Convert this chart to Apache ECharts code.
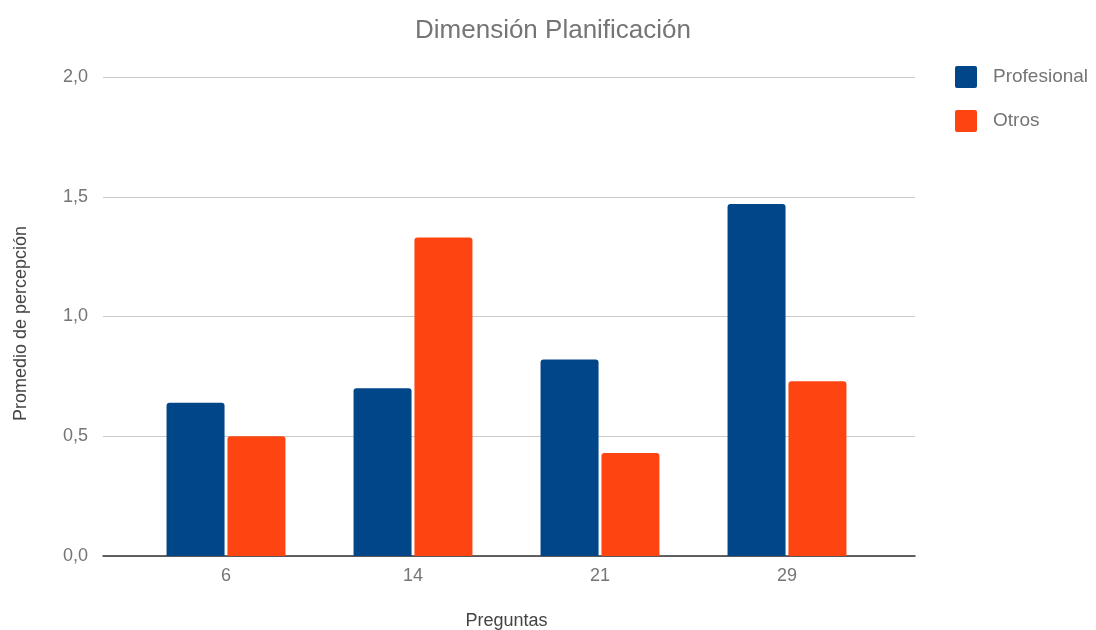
<!DOCTYPE html>
<html>
<head>
<meta charset="utf-8">
<script src="https://cdn.jsdelivr.net/npm/echarts@6/dist/echarts.min.js"></script>
<style>
  html, body { margin: 0; padding: 0; background: #fff; }
  #chart { width: 1096px; height: 630px; }
</style>
</head>
<body>
<div id="chart"></div>
<script>
// Question numbers and mean perception per group
const preguntas = ['6', '14', '21', '29'];
const profesional = [0.64, 0.70, 0.82, 1.47];
const otros = [0.50, 1.33, 0.43, 0.73];
const yTicks = [0, 0.5, 1.0, 1.5, 2.0];

const textColor = '#757575';
const font = 'Arial, "Liberation Sans", sans-serif';
// square legend swatch with slightly rounded corners
const swatch = 'path://M2,0 H20 A2,2 0 0 1 22,2 V20 A2,2 0 0 1 20,22 H2 A2,2 0 0 1 0,20 V2 A2,2 0 0 1 2,0 Z';

const chart = echarts.init(document.getElementById('chart'));
chart.setOption({
  backgroundColor: '#fff',
  textStyle: { fontFamily: font },
  title: {
    text: 'Dimensión Planificación',
    left: 415,
    top: 18,
    padding: 0,
    textStyle: { fontFamily: font, fontSize: 26, fontWeight: 'normal', color: textColor }
  },
  legend: {
    orient: 'vertical',
    left: 955,
    top: 66,
    padding: 0,
    itemWidth: 22,
    itemHeight: 22,
    itemGap: 22,
    icon: swatch,
    textStyle: { fontFamily: font, fontSize: 19, color: textColor, padding: [0, 0, 0, 11] },
    data: ['Profesional', 'Otros']
  },
  grid: [
    // wide grid: gridlines and baseline
    { left: 103, right: 181, top: 77, bottom: 74, outerBoundsMode: 'none', containLabel: false },
    // bar grid
    { left: 132.5, right: 215.5, top: 77, bottom: 74, outerBoundsMode: 'none', containLabel: false }
  ],
  xAxis: [
    {
      type: 'category', gridIndex: 0, data: preguntas,
      axisLine: { show: true, lineStyle: { color: '#333', width: 1.5 } },
      axisTick: { show: false }, axisLabel: { show: false }
    },
    {
      type: 'category', gridIndex: 1, data: preguntas,
      axisLine: { show: false }, axisTick: { show: false },
      axisLabel: { margin: 11, fontSize: 18, color: textColor, fontFamily: font },
      name: 'Preguntas', nameLocation: 'middle', nameGap: 56,
      nameTextStyle: { fontSize: 18, color: '#444', fontFamily: font }
    }
  ],
  yAxis: [
    {
      type: 'value', gridIndex: 0, min: 0, max: 2, interval: 0.5,
      axisLine: { show: false }, axisTick: { show: false },
      splitLine: { lineStyle: { color: '#cccccc', width: 1 } },
      axisLabel: {
        margin: 15, fontSize: 18, color: textColor, fontFamily: font,
        customValues: yTicks,
        formatter: v => v.toFixed(1).replace('.', ',')
      },
      name: 'Promedio de percepción', nameLocation: 'middle', nameGap: 73,
      nameTextStyle: { fontSize: 18, color: '#444', fontFamily: font, padding: [0, 14, 0, 0] }
    },
    {
      type: 'value', gridIndex: 1, min: 0, max: 2, interval: 0.5,
      show: false, splitLine: { show: false }
    }
  ],
  series: [
    {
      name: 'Profesional', type: 'bar', xAxisIndex: 1, yAxisIndex: 1,
      data: profesional, barWidth: 58, barGap: '5%',
      itemStyle: { color: '#02468a', borderRadius: [3, 3, 0, 0] }
    },
    {
      name: 'Otros', type: 'bar', xAxisIndex: 1, yAxisIndex: 1,
      data: otros, barWidth: 58, barGap: '5%',
      itemStyle: { color: '#fe4410', borderRadius: [3, 3, 0, 0] }
    }
  ]
});
</script>
</body>
</html>
